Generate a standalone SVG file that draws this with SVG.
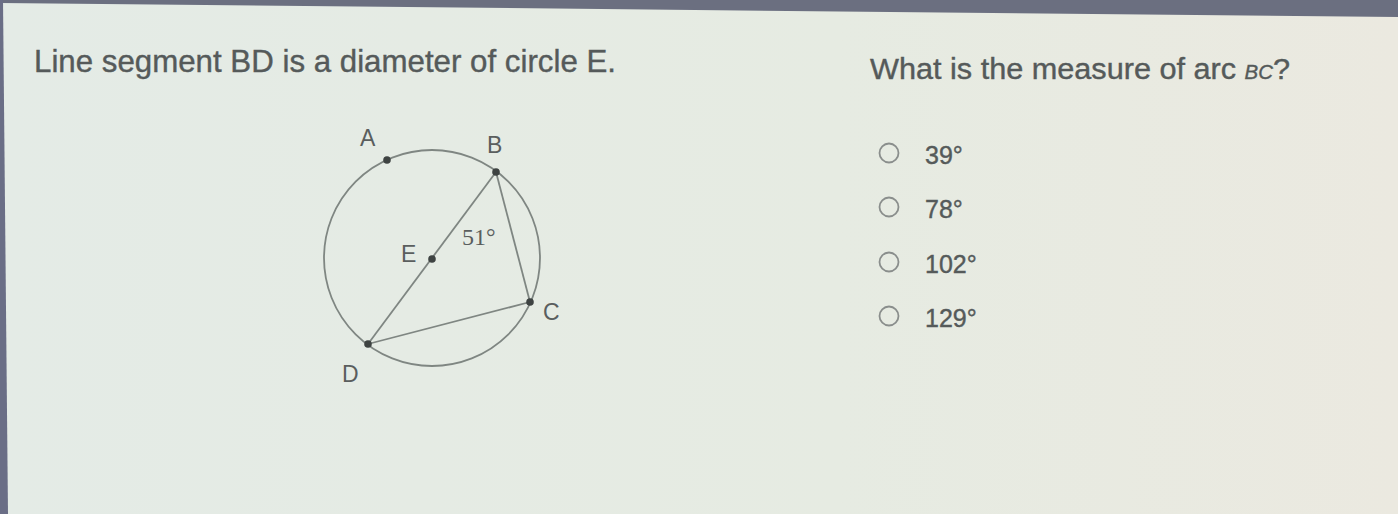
<svg xmlns="http://www.w3.org/2000/svg" width="1398" height="514" viewBox="0 0 1398 514">
<defs>
<linearGradient id="bg" x1="0" y1="0" x2="1" y2="0">
<stop offset="0" stop-color="#e4ebe6"/>
<stop offset="0.6" stop-color="#e6ebe2"/>
<stop offset="1" stop-color="#ebe9e0"/>
</linearGradient>
</defs>
<style>
.t{font-family:"Liberation Sans",Arial,sans-serif;fill:#555a5a;stroke:#555a5a;stroke-width:0.4}
.lbl{font-family:"Liberation Sans",Arial,sans-serif;fill:#5a5e5e;font-size:23px}
.geo{fill:none;stroke:#7f8682;stroke-width:1.8}
.pt{fill:#3e4342}
.radio{fill:none;stroke:#8a8e8c;stroke-width:1.8}
</style>
<rect x="0" y="0" width="1398" height="514" fill="url(#bg)"/>
<polygon points="0,0 1398,0 1398,17 0,3" fill="#6b6f80"/>
<polygon points="0,0 3,0 8,514 0,514" fill="#6a6e86"/>

<text class="t" x="34" y="72" font-size="32" textLength="582" lengthAdjust="spacingAndGlyphs">Line segment BD is a diameter of circle E.</text>
<text class="t" x="870" y="79" font-size="30" textLength="420" lengthAdjust="spacingAndGlyphs">What is the measure of arc <tspan font-size="20" font-style="italic">BC</tspan>?</text>

<g id="connectors">
<circle class="geo" cx="432" cy="258" r="108"/>
<line class="geo" x1="496" y1="172" x2="368" y2="344"/>
<line class="geo" x1="496" y1="172" x2="530" y2="302"/>
<line class="geo" x1="530" y1="302" x2="368" y2="344"/>
</g>
<g id="A"><circle class="pt" cx="387" cy="160" r="3.8"/><text class="lbl" x="360" y="146">A</text></g>
<g id="B"><circle class="pt" cx="496" cy="172" r="3.8"/><text class="lbl" x="487" y="153">B</text></g>
<g id="E"><circle class="pt" cx="432" cy="259" r="3.8"/><text class="lbl" x="401" y="262">E</text></g>
<g id="C"><circle class="pt" cx="530" cy="302" r="3.8"/><text class="lbl" x="543" y="320">C</text></g>
<g id="D"><circle class="pt" cx="368" cy="344" r="3.8"/><text class="lbl" x="342" y="382">D</text></g>
<text id="angle" x="462" y="245" font-family="'Liberation Serif','Times New Roman',serif" font-size="24" fill="#5a5e5e">51°</text>

<g id="opt1"><circle class="radio" cx="889" cy="153" r="9.5"/><text class="t" x="925" y="164" font-size="25">39°</text></g>
<g id="opt2"><circle class="radio" cx="889" cy="207" r="9.5"/><text class="t" x="925" y="218" font-size="25">78°</text></g>
<g id="opt3"><circle class="radio" cx="889" cy="262" r="9.5"/><text class="t" x="925" y="273" font-size="25">102°</text></g>
<g id="opt4"><circle class="radio" cx="889" cy="316" r="9.5"/><text class="t" x="925" y="327" font-size="25">129°</text></g>
</svg>
